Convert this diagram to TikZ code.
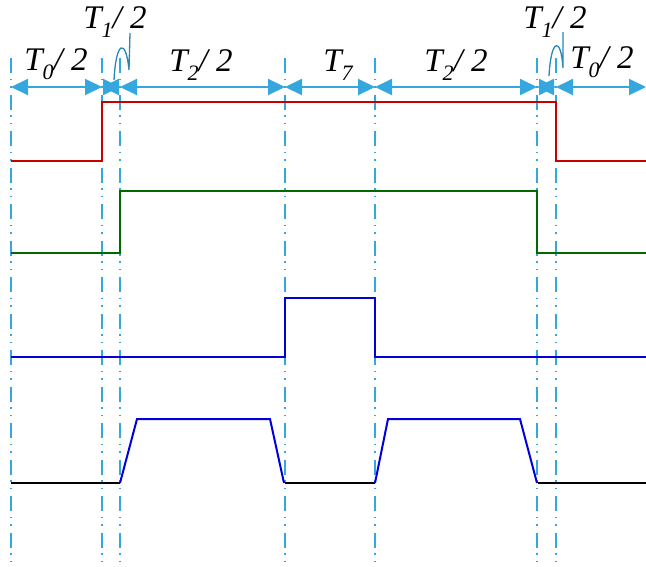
\documentclass[tikz,border=0pt]{standalone}
\usepackage{fontspec}
\setmainfont{Liberation Serif}
\usetikzlibrary{arrows.meta}
\definecolor{guide}{RGB}{52,168,222}
\definecolor{leader}{RGB}{40,135,185}
\definecolor{sigred}{RGB}{200,0,0}
\definecolor{siggreen}{RGB}{0,105,0}
\definecolor{sigblue}{RGB}{0,0,220}
\newcommand{\tsub}[1]{\textit{T\raisebox{-0.65ex}{\fontsize{22}{22}\selectfont #1}}}
\newcommand{\half}[1]{\tsub{#1}\textit{/ 2}}

\begin{document}
\begin{tikzpicture}[x=1pt,y=-1pt,>={Triangle[length=17pt,width=16pt]},
  guideline/.style={guide, line width=1.8pt, dash pattern=on 15pt off 5.5pt on 1.5pt off 6pt on 1.5pt off 7pt},
  span/.style={guide, line width=2pt, <->},
  lab/.style={font=\fontsize{33}{35}\selectfont, anchor=base, inner sep=0pt},
  sig/.style={line width=2pt}]
\useasboundingbox (0,0) rectangle (646,566);

% time marks
\coordinate (t0) at (11,87);
\coordinate (t1) at (102,87);
\coordinate (t2) at (120,87);
\coordinate (t3) at (285,87);
\coordinate (t4) at (375,87);
\coordinate (t5) at (537,87);
\coordinate (t6) at (556,87);
\coordinate (tend) at (646,87);

\foreach \t in {t0,t1,t2,t3,t4,t5,t6}
  \draw[guideline] (\t |- 0,58) -- (\t |- 0,566);

% spans
\draw[span] (t0) -- (t1);
\draw[span] (t1) -- (t2);
\draw[span] (t2) -- (t3);
\draw[span] (t3) -- (t4);
\draw[span] (t4) -- (t5);
\draw[span] (t5) -- (t6);
\draw[span] (t6) -- (tend);

% labels
\node[lab] (h0) at (56,70) {\half{0}};
\node[lab] (h1) at (115,28) {\half{1}};
\node[lab] (q1) at (201,71) {\half{2}};
\node[lab] (s7) at (338,71) {\tsub{7}};
\node[lab] (q2) at (456,71) {\half{2}};
\node[lab] (h2) at (555,28) {\half{1}};
\node[lab] (h3) at (602,68) {\half{0}};

% leaders
\draw[leader, line width=1.3pt] (130,33) -- (129,70) .. controls (126,38) and (116,40) .. (114,80);
\draw[leader, line width=1.3pt] (563,32) -- (563,68) .. controls (561,36) and (551,38) .. (549,76);

% signals
\draw[sig, sigred] (11,161) -| (102,102) -| (556,161) -- (646,161);
\draw[sig, siggreen] (11,253) -| (120,191) -| (537,253) -- (646,253);
\draw[sig, sigblue] (11,357) -| (285,298) -| (375,357) -- (646,357);
\draw[sig, black] (11,483) -- (120,483);
\draw[sig, sigblue] (120,483) -- (137,419) -- (270,419) -- (284,483);
\draw[sig, black] (285,483) -- (375,483);
\draw[sig, sigblue] (375,483) -- (388,419) -- (520,419) -- (537,483);
\draw[sig, black] (538,483) -- (646,483);
\end{tikzpicture}
\end{document}
